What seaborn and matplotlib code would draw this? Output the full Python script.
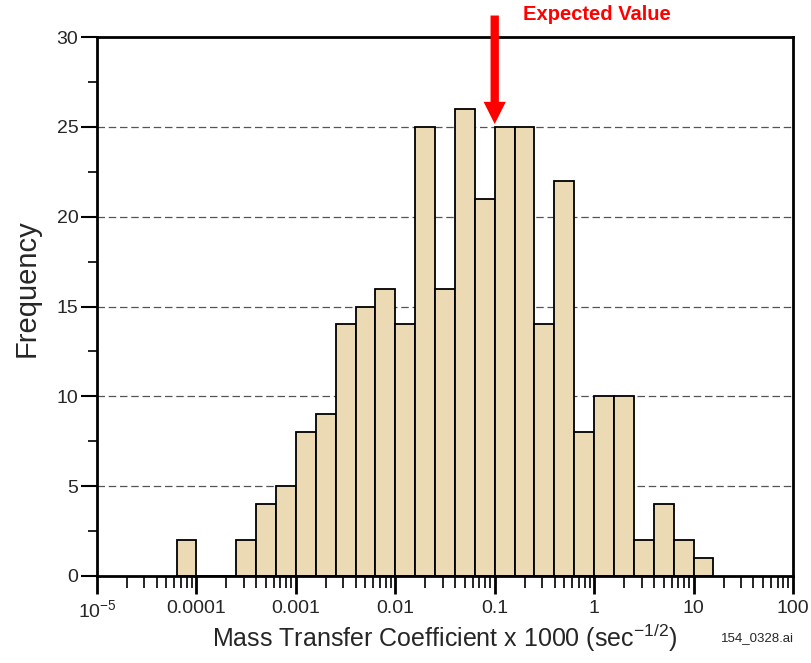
import numpy as np
import pandas as pd
import seaborn as sns
import matplotlib.pyplot as plt
from matplotlib.ticker import FixedLocator, LogLocator, NullFormatter

# data: bins are 0.2 decade wide (log10 of lower edge)
bin_start = -4.2
bin_step = 0.2
counts = [2, 0, 0, 2, 4, 5, 8, 9, 14, 15, 16, 14, 25, 16, 26, 21,
          25, 25, 14, 22, 8, 10, 10, 2, 4, 2, 1]
x_ticks = [1e-5, 1e-4, 1e-3, 1e-2, 1e-1, 1, 10, 100]
x_ticklabels = ['10$^{-5}$', '0.0001', '0.001', '0.01', '0.1', '1', '10', '100']
expected_value = 0.1

sns.set_style("white")
plt.rcParams['font.family'] = ['Liberation Sans', 'DejaVu Sans']
plt.rcParams['mathtext.fontset'] = 'custom'
plt.rcParams['mathtext.rm'] = 'Liberation Sans'
plt.rcParams['mathtext.default'] = 'regular'

centers = 10 ** (bin_start + bin_step * (np.arange(len(counts)) + 0.5))
df = pd.DataFrame({'x': centers, 'n': counts})
bin_stop = bin_start + bin_step * len(counts)

fig = plt.figure(figsize=(8.11, 6.63), dpi=100)
ax = fig.add_axes([97 / 811, 87 / 663, 696 / 811, 539 / 663])

sns.histplot(data=df, x='x', weights='n', binwidth=bin_step,
             binrange=(bin_start, bin_stop - 1e-9), log_scale=True,
             color='#ebdab4', alpha=1, edgecolor='black', linewidth=1.3, ax=ax, zorder=2)

ax.set_xlim(1e-5, 100)
ax.set_ylim(0, 30)

# dashed grid lines
for y in range(5, 30, 5):
    ax.axhline(y, color='#555555', ls=(0, (6, 3)), lw=0.9, zorder=1)

ax.xaxis.set_major_locator(FixedLocator(x_ticks))
ax.set_xticklabels(x_ticklabels)
ax.xaxis.set_minor_locator(LogLocator(base=10, subs=np.arange(2, 10)))
ax.xaxis.set_minor_formatter(NullFormatter())
ax.set_yticks(range(0, 31, 5))
ax.set_yticks(np.arange(2.5, 30, 5), minor=True)

ax.tick_params(axis='x', which='major', direction='out', length=13, width=2,
               labelsize=14, pad=4, color='black', bottom=True)
ax.tick_params(axis='x', which='minor', direction='out', length=8.5, width=1.2,
               color='black', bottom=True)
ax.tick_params(axis='y', which='major', direction='out', length=11.5, width=1.5,
               labelsize=14, pad=2, color='black', left=True)
ax.tick_params(axis='y', which='minor', direction='out', length=6.5, width=1.2,
               color='black', left=True)
ax.xaxis.get_major_ticks()[0].tick1line.set_color('red')

for s in ax.spines.values():
    s.set_color('black')
    s.set_linewidth(2)

ax.set_xlabel('Mass Transfer Coefficient x 1000 (sec$^{-1/2}$)', fontsize=18)
ax.xaxis.set_label_coords(0.499, (576 - 638) / 539)
ax.xaxis.label.set_va('center')
ax.set_ylabel('Frequency', fontsize=21)
ax.yaxis.set_label_coords((27 - 97) / 696, (576 - 288) / 539)
ax.yaxis.label.set_va('center')

# expected value arrow
ax.annotate('', xy=(expected_value, 25), xycoords='data',
            xytext=(expected_value, 1.045), textcoords=('data', 'axes fraction'),
            arrowprops=dict(arrowstyle='simple,head_length=1.6,head_width=1.6,tail_width=0.6',
                            color='red', lw=0), annotation_clip=False)
fig.text(523 / 811, 1 - 15 / 663, 'Expected Value', color='red', fontsize=14.5,
         fontweight='bold', ha='left', va='center')
fig.text(721 / 811, 1 - 638 / 663, '154_0328.ai', fontsize=9.5, ha='left', va='center')

fig.savefig('out.png', dpi=100)
